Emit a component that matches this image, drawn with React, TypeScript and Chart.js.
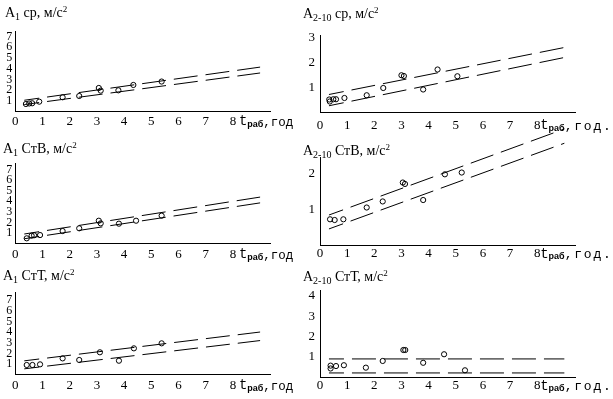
import React, { useEffect, useRef } from 'react';
import { Chart, registerables } from 'chart.js';

Chart.register(...registerables);

const FONT_SERIF = '"Liberation Serif", "Times New Roman", serif';
const FONT_MONO = '"Liberation Mono", "Courier New", monospace';
const FONT_SANS = '"Liberation Sans", Arial, sans-serif';

// shared
const xTicks = [0, 1, 2, 3, 4, 5, 6, 7, 8];
const lineX = [0.33, 9];
const leftYTicks = [1, 2, 3, 4, 5, 6, 7];

// Panel 1: A1 ср
const p1X = [0.39, 0.51, 0.62, 0.88, 1.74, 2.35, 3.07, 3.14, 3.79, 4.34, 5.38];
const p1Y = [0.7, 0.75, 0.77, 0.92, 1.33, 1.45, 2.2, 1.95, 1.98, 2.48, 2.8];
const p1Upper = [1.05, 4.15];
const p1Lower = [0.65, 3.6];

// Panel 2: A2-10 ср
const p2X = [0.34, 0.36, 0.49, 0.59, 0.9, 1.72, 2.33, 3.0, 3.09, 3.8, 4.33, 5.06];
const p2Y = [0.52, 0.44, 0.53, 0.53, 0.58, 0.69, 0.98, 1.49, 1.46, 0.92, 1.72, 1.45];
const p2Upper = [0.72, 2.6];
const p2Lower = [0.27, 2.2];
const p2YTicks = [1, 2, 3];

// Panel 3: A1 СтВ
const p3X = [0.42, 0.6, 0.69, 0.91, 1.74, 2.35, 3.07, 3.14, 3.81, 4.44, 5.38];
const p3Y = [0.49, 0.74, 0.78, 0.8, 1.18, 1.44, 2.16, 1.91, 1.88, 2.16, 2.64];
const p3Upper = [0.9, 4.4];
const p3Lower = [0.45, 3.85];

// Panel 4: A2-10 СтВ
const p4X = [0.37, 0.54, 0.86, 1.72, 2.31, 3.05, 3.13, 3.8, 4.6, 5.22];
const p4Y = [0.72, 0.7, 0.72, 1.05, 1.22, 1.75, 1.71, 1.26, 1.98, 2.03];
const p4Upper = [0.84, 3.25];
const p4Lower = [0.45, 2.85];
const p4YTicks = [1, 2];

// Panel 5: A1 СтТ
const p5X = [0.42, 0.63, 0.91, 1.74, 2.35, 3.11, 3.81, 4.36, 5.38];
const p5Y = [0.91, 0.91, 0.97, 1.53, 1.38, 2.1, 1.31, 2.47, 2.94];
const p5Upper = [1.3, 4.0];
const p5Lower = [0.55, 3.2];

// Panel 6: A2-10 СтТ
const p6X = [0.39, 0.39, 0.59, 0.88, 1.69, 2.31, 3.07, 3.14, 3.8, 4.57, 5.34];
const p6Y = [0.56, 0.42, 0.54, 0.58, 0.46, 0.79, 1.33, 1.33, 0.7, 1.12, 0.33];
const p6Upper = [0.89, 0.89];
const p6Lower = [0.2, 0.2];
const p6YTicks = [1, 2, 3, 4];

type Part = { t: string; font: string; dy?: number; ls?: string };

function drawRich(ctx: CanvasRenderingContext2D, parts: Part[], x: number, y: number, baseline: CanvasTextBaseline) {
  ctx.save();
  ctx.fillStyle = '#000';
  ctx.textAlign = 'left';
  ctx.textBaseline = baseline;
  let cx = x;
  for (const p of parts) {
    ctx.font = p.font;
    (ctx as any).letterSpacing = p.ls || '0px';
    ctx.fillText(p.t, cx, y + (p.dy || 0));
    cx += ctx.measureText(p.t).width;
  }
  ctx.restore();
}

interface PanelCfg {
  id: string;
  left: number; top: number; width: number; height: number;
  x0: number; pxX: number; xMax: number;
  y0: number; pxY: number; yMax: number;
  yTicks: number[]; yFont: number; yPad: number; xPad: number;
  sub: string; name: string; titleX: number; titleY: number;
  unit: string; wide: boolean;
  xs: number[]; ys: number[]; upper: number[]; lower: number[];
}

const panels: PanelCfg[] = [
  { id: 'p1', left: 0, top: 0, width: 300, height: 133, x0: 15.3, pxX: 27.2, xMax: 9.4, y0: 111.5, pxY: 10.7, yMax: 7.5,
    yTicks: leftYTicks, yFont: 12, yPad: 3, xPad: 2, sub: '1', name: 'ср', titleX: 5, titleY: 17, unit: ',год', wide: false,
    xs: p1X, ys: p1Y, upper: p1Upper, lower: p1Lower },
  { id: 'p2', left: 300, top: 0, width: 313, height: 133, x0: 320, pxX: 27.15, xMax: 9.4, y0: 112.5, pxY: 25, yMax: 3.1,
    yTicks: p2YTicks, yFont: 13, yPad: 5, xPad: 5, sub: '2-10', name: 'ср', titleX: 3, titleY: 18, unit: ',год.', wide: true,
    xs: p2X, ys: p2Y, upper: p2Upper, lower: p2Lower },
  { id: 'p3', left: 0, top: 133, width: 300, height: 133, x0: 15.3, pxX: 27.2, xMax: 9.4, y0: 243.5, pxY: 10.55, yMax: 7.6,
    yTicks: leftYTicks, yFont: 12, yPad: 3, xPad: 3, sub: '1', name: 'СтВ', titleX: 3, titleY: 20, unit: ',год', wide: false,
    xs: p3X, ys: p3Y, upper: p3Upper, lower: p3Lower },
  { id: 'p4', left: 300, top: 120, width: 313, height: 146, x0: 320, pxX: 27.15, xMax: 9.4, y0: 245, pxY: 35.7, yMax: 2.45,
    yTicks: p4YTicks, yFont: 13, yPad: 5, xPad: 1, sub: '2-10', name: 'СтВ', titleX: 3, titleY: 35, unit: ',год.', wide: true,
    xs: p4X, ys: p4Y, upper: p4Upper, lower: p4Lower },
  { id: 'p5', left: 0, top: 266, width: 300, height: 133, x0: 15.3, pxX: 27.2, xMax: 9.4, y0: 374.7, pxY: 10.67, yMax: 7.7,
    yTicks: leftYTicks, yFont: 12, yPad: 3, xPad: 3, sub: '1', name: 'СтТ', titleX: 3, titleY: 14, unit: ',год', wide: false,
    xs: p5X, ys: p5Y, upper: p5Upper, lower: p5Lower },
  { id: 'p6', left: 300, top: 266, width: 313, height: 133, x0: 320, pxX: 27.15, xMax: 9.4, y0: 377, pxY: 20.3, yMax: 4.25,
    yTicks: p6YTicks, yFont: 13, yPad: 5, xPad: 1, sub: '2-10', name: 'СтТ', titleX: 3, titleY: 15, unit: ',год.', wide: true,
    xs: p6X, ys: p6Y, upper: p6Upper, lower: p6Lower },
];

const X_FONT = 13;

function Panel({ c }: { c: PanelCfg }) {
  const ref = useRef<HTMLCanvasElement>(null);
  useEffect(() => {
    const chartLeft = c.x0 - c.left;
    const chartRight = chartLeft + c.xMax * c.pxX;
    const chartBottom = c.y0 - c.top;
    const chartTop = chartBottom - c.yMax * c.pxY;

    const titleParts: Part[] = [
      { t: 'A', font: `14px ${FONT_SERIF}` },
      { t: c.sub, font: `10px ${FONT_SERIF}`, dy: 3 },
      { t: ' ' + c.name + ', м/с', font: `14px ${FONT_SERIF}` },
      { t: '2', font: `9px ${FONT_SERIF}`, dy: -5 },
    ];
    const xParts: Part[] = [
      { t: 't', font: `14px ${FONT_MONO}` },
      { t: 'раб', font: `bold 9px ${FONT_SANS}`, dy: 3 },
      { t: c.unit, font: `${c.wide ? 13 : 12.5}px ${FONT_MONO}`, ls: c.wide ? '1.8px' : '0px', dy: 1 },
    ];

    const textPlugin = {
      id: 'richText',
      afterDraw(chart: any) {
        const ctx = chart.ctx as CanvasRenderingContext2D;
        drawRich(ctx, titleParts, c.titleX, c.titleY, 'alphabetic');
        const xs = chart.scales.x;
        const px = xs.getPixelForValue(8) + (c.wide ? 3 : 6);
        const py = xs.top + c.xPad + (X_FONT * 1.2) / 2;
        drawRich(ctx, xParts, px, py, 'middle');
      },
    };

    const pts = c.xs.map((x, i) => ({ x, y: c.ys[i] }));
    const up = lineX.map((x, i) => ({ x, y: c.upper[i] }));
    const lo = lineX.map((x, i) => ({ x, y: c.lower[i] }));

    const lineDs = (data: any[]) => ({
      type: 'line' as const,
      data,
      borderColor: '#000',
      borderWidth: 1,
      borderDash: [24, 8],
      borderDashOffset: 9,
      pointRadius: 0,
      fill: false,
      showLine: true,
      clip: false as any,
    });

    const chart = new Chart(ref.current as HTMLCanvasElement, {
      type: 'scatter',
      data: {
        datasets: [
          {
            type: 'scatter',
            data: pts,
            pointStyle: 'circle',
            pointRadius: 2.6,
            pointBorderWidth: 1,
            pointBackgroundColor: 'rgba(0,0,0,0)',
            pointBorderColor: '#000',
            borderColor: '#000',
            backgroundColor: 'rgba(0,0,0,0)',
            clip: false as any,
          } as any,
          lineDs(up) as any,
          lineDs(lo) as any,
        ],
      },
      options: {
        responsive: false,
        animation: false,
        devicePixelRatio: 1,
        events: [],
        layout: {
          padding: { left: 0, bottom: 0, top: chartTop, right: c.width - chartRight },
        },
        plugins: { legend: { display: false }, tooltip: { enabled: false }, title: { display: false } },
        scales: {
          x: {
            type: 'linear',
            min: 0,
            max: c.xMax,
            grid: { display: false, drawTicks: false },
            border: { display: true, color: '#000', width: 1 },
            ticks: {
              padding: c.xPad,
              color: '#000',
              autoSkip: false,
              maxRotation: 0,
              font: { family: FONT_SERIF, size: X_FONT },
            },
            afterBuildTicks: (s: any) => {
              s.ticks = xTicks.map((v) => ({ value: v }));
            },
            afterFit: (s: any) => {
              s.height = c.height - chartBottom;
            },
          },
          y: {
            type: 'linear',
            min: 0,
            max: c.yMax,
            grid: { display: false, drawTicks: false },
            border: { display: true, color: '#000', width: 1 },
            ticks: {
              padding: c.yPad,
              color: '#000',
              autoSkip: false,
              font: { family: FONT_SERIF, size: c.yFont, lineHeight: 1 },
            },
            afterBuildTicks: (s: any) => {
              s.ticks = c.yTicks.map((v) => ({ value: v }));
            },
            afterFit: (s: any) => {
              s.width = chartLeft;
            },
          },
        },
      } as any,
      plugins: [textPlugin],
    });
    return () => chart.destroy();
  }, []);
  return (
    <canvas
      ref={ref}
      width={c.width}
      height={c.height}
      style={{ position: 'absolute', left: c.left, top: c.top, width: c.width, height: c.height }}
    />
  );
}

export default function App() {
  return (
    <div style={{ position: 'absolute', left: 0, top: 0, width: 613, height: 399, background: '#fff', overflow: 'hidden' }}>
      {panels.map((p) => (
        <Panel key={p.id} c={p} />
      ))}
    </div>
  );
}
